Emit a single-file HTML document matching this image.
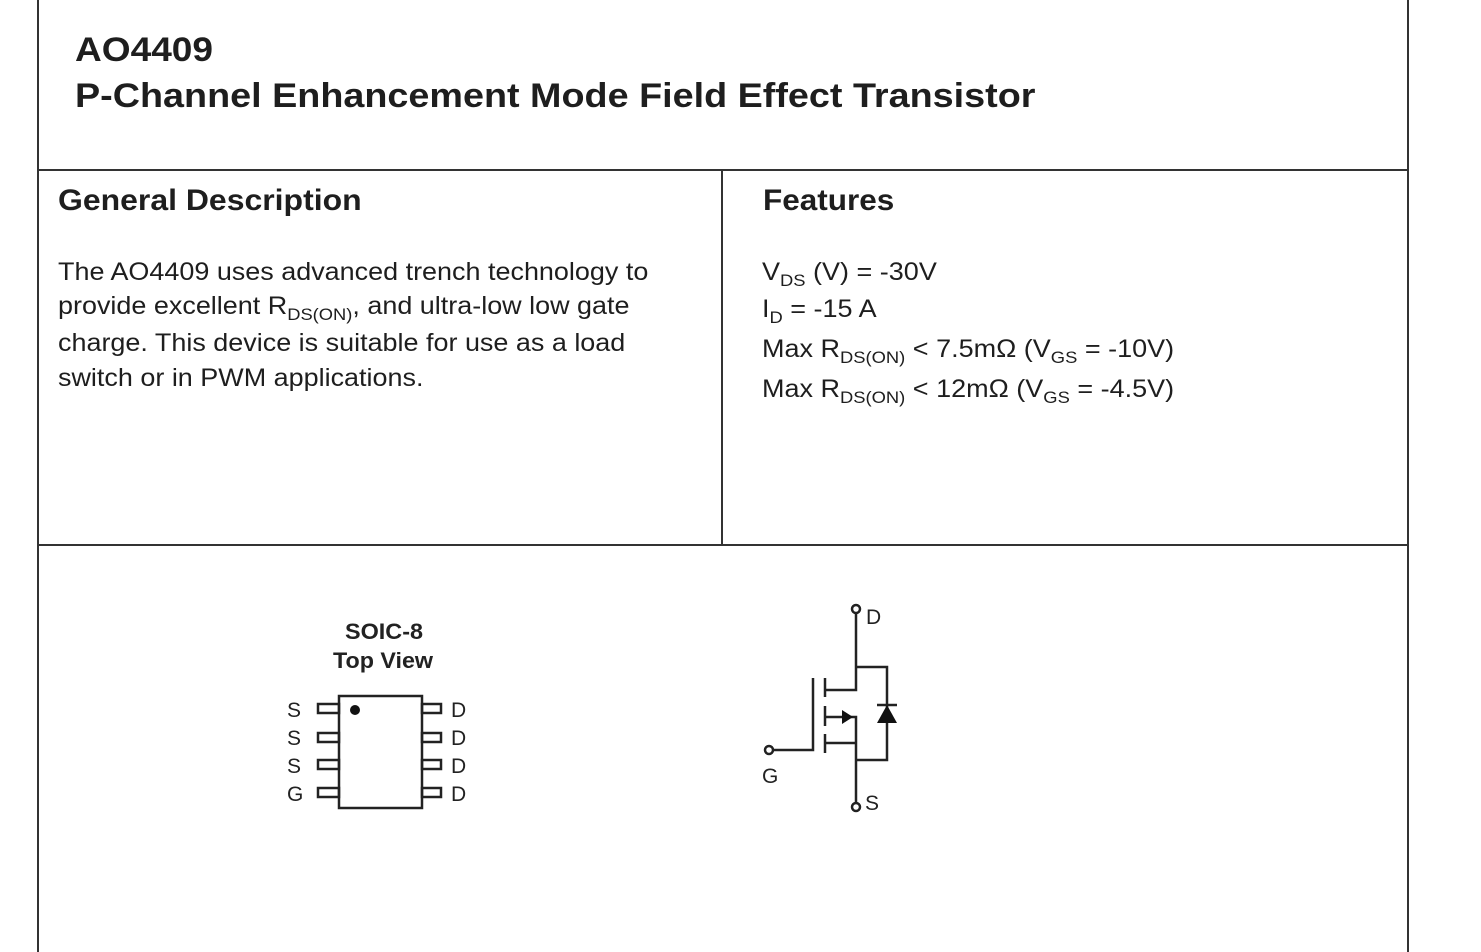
<!DOCTYPE html>
<html><head><meta charset="utf-8"><style>
body{margin:0;width:1481px;height:952px;background:#fff;position:relative;overflow:hidden;font-family:"Liberation Sans",Arial,sans-serif;color:#1e1e1e}
.a{position:absolute;white-space:nowrap;transform-origin:0 0}
.ln{position:absolute;background:#333}
.b{font-weight:bold}
.t{font-size:25px;line-height:24px}
sub{font-size:17px;vertical-align:-6px;line-height:0}
</style></head><body>
<div class="ln" style="left:37px;top:0;width:2px;height:952px"></div>
<div class="ln" style="left:1407px;top:0;width:2px;height:952px"></div>
<div class="ln" style="left:37px;top:169px;width:1372px;height:2px"></div>
<div class="ln" style="left:37px;top:544px;width:1372px;height:2px"></div>
<div class="ln" style="left:721px;top:170px;width:2px;height:375px"></div>

<div class="a b" style="left:75px;top:31px;font-size:34px;transform:scaleX(1.09)">AO4409</div>
<div class="a b" style="left:75px;top:77px;font-size:34px;transform:scaleX(1.11)">P-Channel Enhancement Mode Field Effect Transistor</div>
<div class="a b" style="left:58px;top:184px;font-size:30px;transform:scaleX(1.065)">General Description</div>
<div class="a b" style="left:763px;top:184px;font-size:30px;transform:scaleX(1.05)">Features</div>

<div class="a t" style="left:58px;top:260px;transform:scaleX(1.078)">The AO4409 uses advanced trench technology to</div>
<div class="a t" style="left:58px;top:294px;transform:scaleX(1.078)">provide excellent R<sub>DS(ON)</sub>, and ultra-low low gate</div>
<div class="a t" style="left:58px;top:331px;transform:scaleX(1.078)">charge. This device is suitable for use as a load</div>
<div class="a t" style="left:58px;top:366px;transform:scaleX(1.078)">switch or in PWM applications.</div>

<div class="a t" style="left:762px;top:260px;transform:scaleX(1.08)">V<sub>DS</sub> (V) = -30V</div>
<div class="a t" style="left:762px;top:297px;transform:scaleX(1.08)">I<sub>D</sub> = -15 A</div>
<div class="a t" style="left:762px;top:337px;transform:scaleX(1.08)">Max R<sub>DS(ON)</sub> &lt; 7.5mΩ (V<sub>GS</sub> = -10V)</div>
<div class="a t" style="left:762px;top:377px;transform:scaleX(1.08)">Max R<sub>DS(ON)</sub> &lt; 12mΩ (V<sub>GS</sub> = -4.5V)</div>

<svg class="a" style="left:0;top:0" width="1481" height="952">
<g font-family="Liberation Sans,Arial,sans-serif" font-weight="bold" font-size="22" text-anchor="middle" fill="#222">
<text x="384" y="639" textLength="78" lengthAdjust="spacingAndGlyphs">SOIC-8</text><text x="383" y="668" textLength="100" lengthAdjust="spacingAndGlyphs">Top View</text></g>
<g fill="none" stroke="#222" stroke-width="2.5">
<rect x="339" y="696" width="83" height="112"/>
<rect x="318" y="704" width="21" height="9"/><rect x="318" y="733" width="21" height="9"/><rect x="318" y="760" width="21" height="9"/><rect x="318" y="788" width="21" height="9"/>
<rect x="422" y="704" width="19" height="9"/><rect x="422" y="733" width="19" height="9"/><rect x="422" y="760" width="19" height="9"/><rect x="422" y="788" width="19" height="9"/>
</g>
<circle cx="355" cy="710" r="5" fill="#111"/>
<g font-family="Liberation Sans,Arial,sans-serif" font-size="21" fill="#222">
<text x="287" y="717">S</text><text x="287" y="745">S</text><text x="287" y="773">S</text><text x="287" y="801">G</text>
<text x="451" y="717">D</text><text x="451" y="745">D</text><text x="451" y="773">D</text><text x="451" y="801">D</text>
<text x="866" y="624">D</text><text x="762" y="783">G</text><text x="865" y="810">S</text>
</g>
<g fill="none" stroke="#222" stroke-width="2.5">
<circle cx="856" cy="609" r="4" fill="#fff"/><circle cx="856" cy="807" r="4" fill="#fff"/><circle cx="769" cy="750" r="4" fill="#fff"/>
<polyline points="856,613 856,690 825,690"/>
<polyline points="856,667 887,667 887,760 856,760"/>
<polyline points="773,750 813,750 813,678"/>
<line x1="825" y1="678" x2="825" y2="697"/><line x1="825" y1="706" x2="825" y2="726"/><line x1="825" y1="734" x2="825" y2="753"/>
<polyline points="825,717 856,717 856,803"/>
<line x1="825" y1="743" x2="856" y2="743"/>
<line x1="877" y1="705" x2="897" y2="705"/>
</g>
<polygon points="842,710 853,717 842,724" fill="#111"/>
<polygon points="887,705 877,723 897,723" fill="#111"/>
</svg>
</body></html>
